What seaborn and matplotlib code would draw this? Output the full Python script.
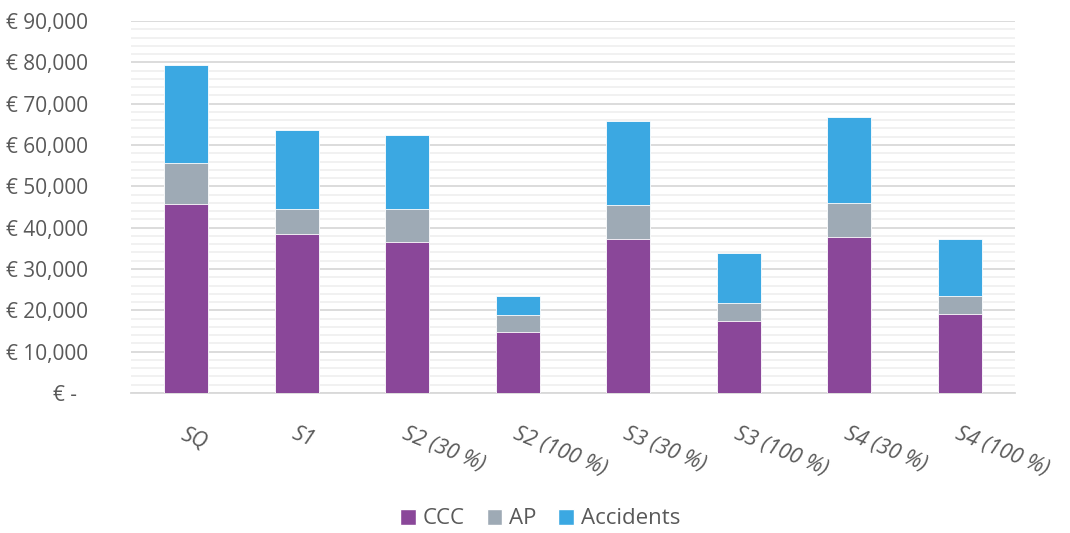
import numpy as np
import pandas as pd
import matplotlib
matplotlib.use("Agg")
import matplotlib.pyplot as plt
import seaborn as sns
from matplotlib.patches import Patch
from matplotlib.ticker import FuncFormatter, MultipleLocator

# data (EUR)
scenarios = ["SQ", "S1", "S2 (30 %)", "S2 (100 %)", "S3 (30 %)", "S3 (100 %)", "S4 (30 %)", "S4 (100 %)"]
ccc = [45840, 38400, 36470, 14840, 37290, 17340, 37770, 19030]
ap = [9850, 6150, 8080, 3950, 8230, 4520, 8230, 4460]
accidents = [23560, 19200, 17920, 4600, 20170, 12110, 20660, 13700]

series = ["CCC", "AP", "Accidents"]
colors = {"CCC": "#8A4799", "AP": "#9EAAB5", "Accidents": "#3BA8E2"}

df = pd.DataFrame({"scenario": scenarios, "CCC": ccc, "AP": ap, "Accidents": accidents})
# cumulative heights for stacking (draw tallest first)
df["cum_CCC"] = df["CCC"]
df["cum_AP"] = df["cum_CCC"] + df["AP"]
df["cum_Accidents"] = df["cum_AP"] + df["Accidents"]

sns.set_style("white")
plt.rcParams["font.family"] = ["Open Sans", "DejaVu Sans"]

fig = plt.figure(figsize=(10.7, 5.33), dpi=100)
ax = fig.add_axes([131 / 1070, 1 - 393 / 533, (1015 - 131) / 1070, (393 - 21) / 533])

for name in reversed(series):
    sns.barplot(data=df, x="scenario", y="cum_" + name, color=colors[name],
                width=0.4, saturation=1, ax=ax, zorder=3,
                edgecolor="white", linewidth=0.6)

ax.set_ylim(0, 90000)
ax.set_xlim(-0.5, len(scenarios) - 0.5)
ax.yaxis.set_major_locator(MultipleLocator(10000))
ax.yaxis.set_minor_locator(MultipleLocator(2000))
ax.grid(True, which="major", axis="y", color="#D9D9D9", linewidth=1.3, zorder=0)
ax.grid(True, which="minor", axis="y", color="#F0F0F0", linewidth=1.3, zorder=0)
ax.set_axisbelow(True)

def euro(v, pos):
    if v == 0:
        return "€ -  "
    return f"€ {v:,.0f}"

ax.yaxis.set_major_formatter(FuncFormatter(euro))
ax.tick_params(axis="y", which="both", length=0, pad=31, labelsize=15, labelcolor="#595959")
ax.tick_params(axis="x", length=0, pad=22)
ax.set_xticks(range(len(scenarios)))
ax.set_xticklabels(scenarios, rotation=-22, ha="left", rotation_mode="anchor",
                   fontsize=15.5, color="#595959", style="italic")
ax.set_xlabel("")
ax.set_ylabel("")

for side in ["top", "right", "left"]:
    ax.spines[side].set_visible(False)
ax.spines["bottom"].set_color("#D9D9D9")
ax.spines["bottom"].set_linewidth(1.3)

handles = [Patch(facecolor=colors[s], label=s) for s in series]
fig.legend(handles=handles, loc="center", bbox_to_anchor=(540 / 1070, 1 - 519 / 533),
           ncol=3, frameon=False, fontsize=16, labelcolor="#595959",
           handlelength=0.7, handleheight=0.7, handletextpad=0.3, columnspacing=1.0)

fig.savefig("out.png", dpi=100)
